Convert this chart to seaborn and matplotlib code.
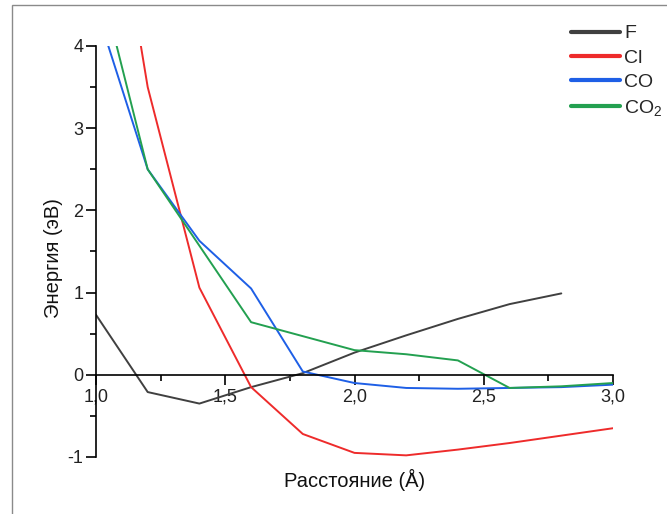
import matplotlib
matplotlib.use("Agg")
import matplotlib.pyplot as plt
from matplotlib.patches import Rectangle
from matplotlib.ticker import MultipleLocator, FuncFormatter
import seaborn as sns
import pandas as pd

# ---- data ----
x_F = [1.0, 1.2, 1.4, 1.6, 1.8, 2.0, 2.2, 2.4, 2.6, 2.8]
y_F = [0.73, -0.21, -0.35, -0.15, 0.02, 0.27, 0.48, 0.68, 0.86, 0.99]

x_Cl = [1.0, 1.2, 1.4, 1.6, 1.8, 2.0, 2.2, 2.4, 2.6, 2.8, 3.0]
y_Cl = [7.3, 3.5, 1.06, -0.15, -0.72, -0.95, -0.98, -0.91, -0.83, -0.74, -0.65]

x_CO = [1.0, 1.2, 1.4, 1.6, 1.8, 2.0, 2.2, 2.4, 2.6, 2.8, 3.0]
y_CO = [4.47, 2.5, 1.63, 1.05, 0.04, -0.10, -0.16, -0.17, -0.16, -0.15, -0.12]

x_CO2 = [1.0, 1.2, 1.4, 1.6, 1.8, 2.0, 2.2, 2.4, 2.6, 2.8, 3.0]
y_CO2 = [5.0, 2.5, 1.57, 0.64, 0.47, 0.30, 0.25, 0.175, -0.16, -0.14, -0.10]

series_names = ["F", "Cl", "CO", "CO$_2$"]
series_colors = ["#404040", "#ee2b2b", "#1e5fe6", "#23a050"]

x_ticks = [1.0, 1.5, 2.0, 2.5, 3.0]
y_ticks = [-1, 0, 1, 2, 3, 4]
x_label = "Расстояние (Å)"
y_label = "Энергия (эВ)"

frames = []
for name, xs, ys in zip(series_names, [x_F, x_Cl, x_CO, x_CO2], [y_F, y_Cl, y_CO, y_CO2]):
    frames.append(pd.DataFrame({"x": xs, "y": ys, "series": name}))
df = pd.concat(frames, ignore_index=True)

# ---- style ----
sns.set_theme(style="ticks")
plt.rcParams["font.family"] = ["Liberation Sans", "DejaVu Sans"]
plt.rcParams["mathtext.fontset"] = "custom"
plt.rcParams["mathtext.rm"] = "Liberation Sans"
plt.rcParams["mathtext.it"] = "Liberation Sans"

fig = plt.figure(figsize=(6.67, 5.14), dpi=100)
fig.patches.append(Rectangle((12 / 667, -0.2), 1.2, 0.2 + 1 - 5 / 514,
                             transform=fig.transFigure, fill=False,
                             edgecolor="#8a8a8a", linewidth=1.0))
ax = fig.add_axes([96 / 667, 1 - 457 / 514, (613 - 96) / 667, (457 - 46) / 514])

sns.lineplot(data=df, x="x", y="y", hue="series", hue_order=series_names,
             palette=series_colors, linewidth=1.4, sort=False, estimator=None,
             legend=False, ax=ax)

ax.set_xlim(1.0, 3.0)
ax.set_ylim(-1, 4)
ax.spines["top"].set_visible(False)
ax.spines["right"].set_visible(False)
ax.spines["bottom"].set_position(("data", 0))
for s in ("left", "bottom"):
    ax.spines[s].set_color("black")
    ax.spines[s].set_linewidth(1.2)

ax.set_xticks(x_ticks)
ax.xaxis.set_minor_locator(MultipleLocator(0.25))
ax.set_yticks(y_ticks)
ax.yaxis.set_minor_locator(MultipleLocator(0.5))
ax.xaxis.set_major_formatter(FuncFormatter(lambda v, p: f"{v:.1f}".replace(".", ",")))
ax.yaxis.set_major_formatter(FuncFormatter(lambda v, p: f"{int(round(v))}"))
ax.tick_params(axis="both", which="major", direction="out", length=7, width=1.2,
               labelsize=13, colors="black", labelcolor="#222222", pad=2)
ax.tick_params(axis="both", which="minor", direction="out", length=4, width=1.2, colors="black")
ax.tick_params(axis="x", which="major", pad=3)

ax.set_xlabel(x_label, fontsize=14.5, color="#111111")
ax.set_ylabel(y_label, fontsize=14.5, color="#111111")
ax.xaxis.set_label_coords(0.5, -0.03)
ax.yaxis.set_label_coords(-0.064, 0.485)

handles = [plt.Line2D([], [], color=c, linewidth=3, solid_capstyle="round") for c in series_colors]
fig.legend(handles, series_names, loc="upper left",
           bbox_to_anchor=(563 / 667, 1 - 17 / 514), frameon=False, fontsize=14,
           handlelength=2.55, handletextpad=0.2, labelspacing=0.35, borderaxespad=0)

fig.savefig("out.png", dpi=100)
